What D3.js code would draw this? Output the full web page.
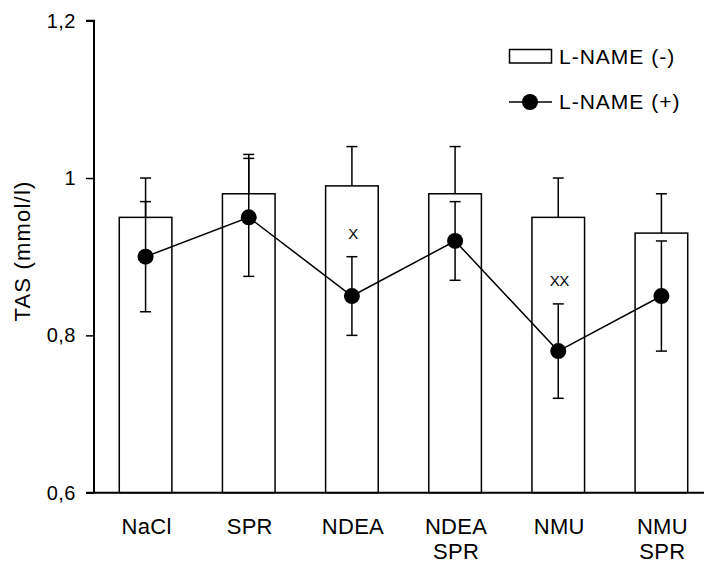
<!DOCTYPE html>
<html>
<head>
<meta charset="utf-8">
<script src="https://cdn.jsdelivr.net/npm/d3@7"></script>
<style>
  body { margin: 0; background: #fff; }
  svg text { font-family: "Liberation Sans", Arial, sans-serif; fill: #000; }
</style>
</head>
<body>
<svg width="704" height="565"></svg>
<script>
// data
var categories = ['NaCl', 'SPR', 'NDEA', 'NDEA SPR', 'NMU', 'NMU SPR'];
var barValues  = [0.95, 0.98, 0.99, 0.98, 0.95, 0.93];   // L-NAME (-)
var barErrors  = [0.05, 0.05, 0.05, 0.06, 0.05, 0.05];
var lineValues = [0.90, 0.95, 0.85, 0.92, 0.78, 0.85];   // L-NAME (+)
var lineErrors = [0.07, 0.075, 0.05, 0.05, 0.06, 0.07];
var marks      = ['', '', 'X', '', 'XX', ''];
var yTicks     = [0.6, 0.8, 1, 1.2];
var legendLabels = ['L-NAME (-)', 'L-NAME (+)'];

var svg = d3.select('svg');

var x = d3.scaleBand()
    .domain(categories)
    .range([94, 713])
    .paddingInner(0.49)
    .paddingOuter(0.245);

var y = d3.scaleLinear()
    .domain([0.6, 1.2])
    .range([492.7, 20.7]);

var rows = categories.map(function(c, i) {
    return {cat: c, bar: barValues[i], barErr: barErrors[i],
            val: lineValues[i], err: lineErrors[i], mark: marks[i]};
});

var cx = function(d) { return x(d.cat) + x.bandwidth() / 2; };

// bars
svg.selectAll('.bar')
    .data(rows)
    .enter()
    .append('rect')
    .attr('class', 'bar')
    .attr('x', d => x(d.cat))
    .attr('y', d => y(d.bar))
    .attr('width', x.bandwidth())
    .attr('height', d => y(0.6) - y(d.bar))
    .attr('fill', '#fff')
    .attr('stroke', '#000')
    .attr('stroke-width', 1.5);

// bar error bars (upper half only)
var capW = 5.5;
var barErr = svg.selectAll('.bar-err')
    .data(rows)
    .enter()
    .append('g')
    .attr('class', 'bar-err')
    .attr('stroke', '#000')
    .attr('stroke-width', 1.5);
barErr.append('line')
    .attr('x1', cx).attr('x2', cx)
    .attr('y1', d => y(d.bar)).attr('y2', d => y(d.bar + d.barErr));
barErr.append('line')
    .attr('x1', d => cx(d) - capW).attr('x2', d => cx(d) + capW)
    .attr('y1', d => y(d.bar + d.barErr)).attr('y2', d => y(d.bar + d.barErr));

// significance marks
svg.selectAll('.mark')
    .data(rows.filter(d => d.mark))
    .enter()
    .append('text')
    .attr('class', 'mark')
    .attr('x', d => cx(d) + 1)
    .attr('y', d => y(d.val + d.err) - 18)
    .attr('text-anchor', 'middle')
    .style('font-size', '15px')
    .style('letter-spacing', '-0.5px')
    .text(d => d.mark);

// line series
var line = d3.line()
    .x(cx)
    .y(d => y(d.val));

svg.append('path')
    .datum(rows)
    .attr('d', line)
    .attr('fill', 'none')
    .attr('stroke', '#000')
    .attr('stroke-width', 1.5);

var lineErr = svg.selectAll('.line-err')
    .data(rows)
    .enter()
    .append('g')
    .attr('class', 'line-err')
    .attr('stroke', '#000')
    .attr('stroke-width', 1.5);
lineErr.append('line')
    .attr('x1', cx).attr('x2', cx)
    .attr('y1', d => y(d.val - d.err)).attr('y2', d => y(d.val + d.err));
[-1, 1].forEach(function(s) {
    lineErr.append('line')
        .attr('x1', d => cx(d) - capW).attr('x2', d => cx(d) + capW)
        .attr('y1', d => y(d.val + s * d.err)).attr('y2', d => y(d.val + s * d.err));
});

svg.selectAll('.dot')
    .data(rows)
    .enter()
    .append('circle')
    .attr('class', 'dot')
    .attr('cx', cx)
    .attr('cy', d => y(d.val))
    .attr('r', 8)
    .attr('fill', '#000');

// y axis
var yAxis = svg.append('g')
    .attr('transform', 'translate(94,0)')
    .call(d3.axisLeft(y)
        .tickValues(yTicks)
        .tickSize(8)
        .tickPadding(10)
        .tickFormat(d => String(d).replace('.', ',')));
yAxis.select('.domain').attr('stroke-width', 2).attr('d', 'M-8,20.7H0V492.7');
yAxis.selectAll('.tick line').attr('stroke-width', 1.5);
yAxis.selectAll('.tick text')
    .style('font-size', '20px')
    .style('letter-spacing', '0.5px')
    .attr('font-family', null);

// x axis line
svg.append('line')
    .attr('x1', 86).attr('x2', 704)
    .attr('y1', y(0.6)).attr('y2', y(0.6))
    .attr('stroke', '#000')
    .attr('stroke-width', 2);

// x labels (split into lines)
svg.selectAll('.xlabel')
    .data(categories)
    .enter()
    .append('text')
    .attr('class', 'xlabel')
    .attr('text-anchor', 'middle')
    .style('font-size', '22px')
    .style('letter-spacing', '0.3px')
    .each(function(c) {
        var t = d3.select(this);
        c.split(' ').forEach(function(part, i) {
            t.append('tspan')
                .attr('x', x(c) + x.bandwidth() / 2 + 1)
                .attr('y', 534 + i * 25)
                .text(part);
        });
    });

// y title
svg.append('text')
    .attr('transform', 'translate(30,251) rotate(-90)')
    .attr('text-anchor', 'middle')
    .style('font-size', '22px')
    .style('letter-spacing', '1.2px')
    .text('TAS (mmol/l)');

// legend
var legend = svg.append('g').attr('class', 'legend');
legend.append('rect')
    .attr('x', 509.5).attr('y', 49.5)
    .attr('width', 42).attr('height', 13.5)
    .attr('fill', '#fff')
    .attr('stroke', '#000')
    .attr('stroke-width', 1.5);
legend.append('line')
    .attr('x1', 509).attr('x2', 552)
    .attr('y1', 102).attr('y2', 102)
    .attr('stroke', '#000')
    .attr('stroke-width', 1.5);
legend.append('circle')
    .attr('cx', 530).attr('cy', 102).attr('r', 8)
    .attr('fill', '#000');
legend.selectAll('.legend-label')
    .data(legendLabels)
    .enter()
    .append('text')
    .attr('class', 'legend-label')
    .attr('x', 559)
    .attr('y', (d, i) => 63.5 + i * 45.5)
    .style('font-size', '21px')
    .style('letter-spacing', '1px')
    .text(d => d);
</script>
</body>
</html>
